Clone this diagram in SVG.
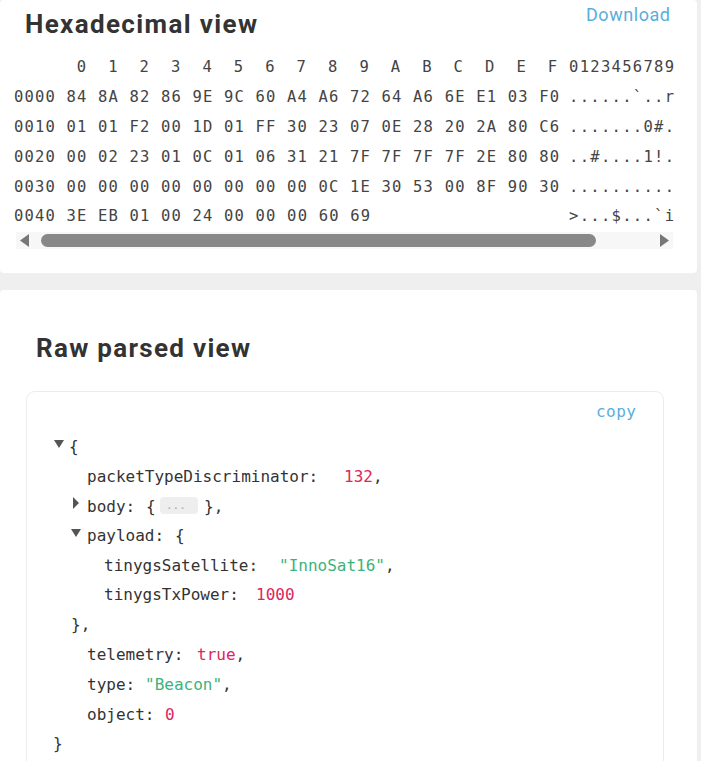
<svg xmlns="http://www.w3.org/2000/svg" width="701" height="761" viewBox="0 0 701 761">
<style>
.h{font-family:Roboto,"Liberation Sans",sans-serif;font-weight:bold;font-size:26px;fill:#333}
.m{font-family:"DejaVu Sans Mono","Liberation Mono",monospace;font-size:15.5px;fill:#444}
.j{font-family:"DejaVu Sans Mono","Liberation Mono",monospace;font-size:16px;fill:#333}
.lnk{font-family:Roboto,"Liberation Sans",sans-serif;font-size:18px;fill:#5aaedb}
.n{fill:#e0245e}.s{fill:#3cb37a}
.tri{fill:#555}
</style>
<rect width="701" height="761" fill="#efefef"/>
<g id="hexcard">
<rect x="0" y="0" width="697" height="273" rx="4" fill="#fff"/>
<text class="h" x="25" y="33" textLength="232">Hexadecimal view</text>
<text class="lnk" x="586" y="21" textLength="84">Download</text>
<g class="m">
<text x="76.8 108.2 139.6 171 202.4 233.8 265.2 296.6 328 359.4 390.8 422.2 453.6 485 516.4 547.8" y="72">0123456789ABCDEF</text>
<text x="569" y="72" textLength="105">0123456789</text>
<text x="14" y="102" textLength="545">0000 84 8A 82 86 9E 9C 60 A4 A6 72 64 A6 6E E1 03 F0</text>
<text x="569" y="102" textLength="105">......`..r</text>
<text x="14" y="132" textLength="545">0010 01 01 F2 00 1D 01 FF 30 23 07 0E 28 20 2A 80 C6</text>
<text x="569" y="132" textLength="105">.......0#.</text>
<text x="14" y="162" textLength="545">0020 00 02 23 01 0C 01 06 31 21 7F 7F 7F 7F 2E 80 80</text>
<text x="569" y="162" textLength="105">..#....1!.</text>
<text x="14" y="192" textLength="545">0030 00 00 00 00 00 00 00 00 0C 1E 30 53 00 8F 90 30</text>
<text x="569" y="192" textLength="105">..........</text>
<text x="14" y="221" textLength="356">0040 3E EB 01 00 24 00 00 00 60 69</text>
<text x="569" y="221" textLength="105">&gt;...$...`i</text>
</g>
<g id="scrollbar">
<rect x="16" y="232" width="657" height="17" fill="#f7f7f7"/>
<path d="M29 234 L20 240.5 L29 247 Z" fill="#777"/>
<rect x="41" y="234" width="555" height="13" rx="6.5" fill="#888"/>
<path d="M660 234 L669 240.5 L660 247 Z" fill="#777"/>
</g>
</g>
<g id="rawcard">
<rect x="0" y="290" width="697" height="480" rx="4" fill="#fff"/>
<text class="h" x="36" y="357" textLength="214">Raw parsed view</text>
<rect x="26.5" y="391.5" width="637" height="400" rx="8" fill="#fff" stroke="#ececec"/>
<text class="lnk" x="596" y="417" style="font-family:'DejaVu Sans Mono','Liberation Mono',monospace;font-size:16px" textLength="40">copy</text>
<g class="j">
<path class="tri" d="M54 440 L64 440 L59 448 Z"/>
<text x="69" y="452">{</text>
<text x="87" y="482">packetTypeDiscriminator:<tspan class="n" x="344">132</tspan>,</text>
<path class="tri" d="M73 497 L79 503 L73 509 Z"/>
<text x="87" y="512">body:<tspan x="146">{</tspan></text>
<rect x="160" y="497" width="38" height="17" rx="4" fill="#eee"/>
<text x="166" y="509" style="font-size:11px;fill:#aaa">...</text>
<text x="204" y="512">},</text>
<path class="tri" d="M71 529 L81 529 L76 537 Z"/>
<text x="87" y="541">payload:<tspan x="175">{</tspan></text>
<text x="104" y="571">tinygsSatellite:<tspan class="s" x="279">"InnoSat16"</tspan>,</text>
<text x="104" y="600">tinygsTxPower:<tspan class="n" x="256">1000</tspan></text>
<text x="71" y="630">},</text>
<text x="87" y="660">telemetry:<tspan class="n" x="197">true</tspan>,</text>
<text x="87" y="690">type:<tspan class="s" x="145">"Beacon"</tspan>,</text>
<text x="87" y="720">object:<tspan class="n" x="165">0</tspan></text>
<text x="53" y="749">}</text>
</g>
</g>
</svg>
